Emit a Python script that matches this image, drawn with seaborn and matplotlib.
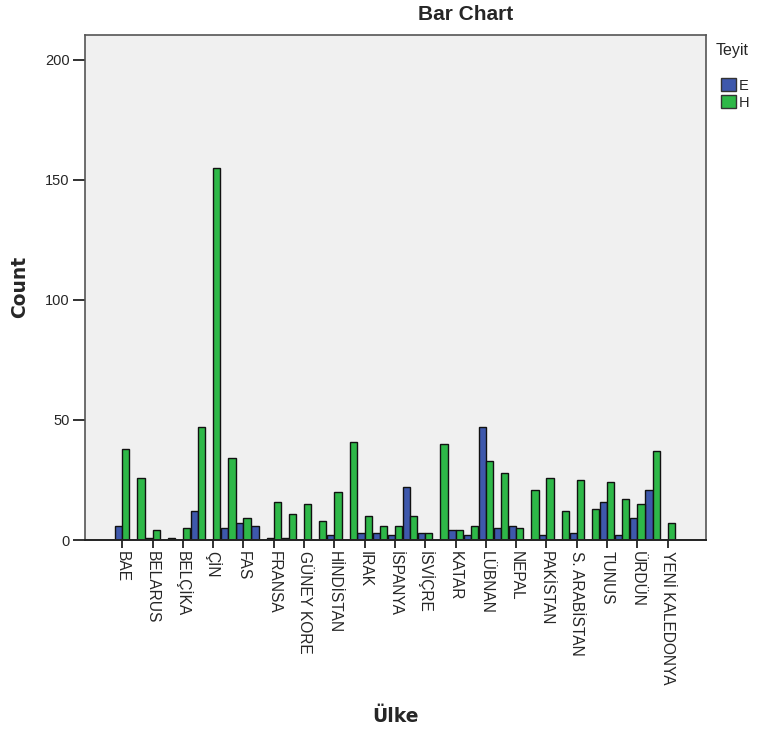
import matplotlib
matplotlib.use("Agg")
import matplotlib.pyplot as plt
import seaborn as sns
import pandas as pd

# ---- data ----
countries = [
    "BAE", "BAHREYN", "BELARUS", "BOSNA", "BELÇİKA", "BREZİLYA", "ÇİN", "ENDONEZYA",
    "FAS", "FİLİPİNLER", "FRANSA", "GÜNEY AFRİKA", "GÜNEY KORE", "GÜRCİSTAN",
    "HİNDİSTAN", "HOLLANDA", "IRAK", "İRAN", "İSPANYA", "İSRAİL", "İSVİÇRE",
    "İTALYA", "KATAR", "KUVEYT", "LÜBNAN", "MISIR", "NEPAL", "ÖZBEKİSTAN",
    "PAKİSTAN", "RUSYA", "S. ARABİSTAN", "TAYLAND", "TUNUS", "UKRAYNA", "ÜRDÜN",
    "VİETNAM", "YENİ KALEDONYA",
]
count_E = [6, 0, 1, 0, 0, 12, 0, 5, 7, 6, 1, 1, 0, 0, 2, 0, 3, 3, 2, 22, 3,
           0, 4, 2, 47, 5, 6, 0, 2, 0, 3, 0, 16, 2, 9, 21, 0]
count_H = [38, 26, 4, 1, 5, 47, 155, 34, 9, 0, 16, 11, 15, 8, 20, 41, 10, 6, 6,
           10, 3, 40, 4, 6, 33, 28, 5, 21, 26, 12, 25, 13, 24, 17, 15, 37, 7]
teyit_levels = ["E", "H"]
labeled_countries = countries[::2]
y_ticks = [0, 50, 100, 150, 200]

df = pd.DataFrame({
    "Ülke": countries * 2,
    "Teyit": ["E"] * len(countries) + ["H"] * len(countries),
    "Count": count_E + count_H,
})

sns.set_style("white")
plt.rcParams["font.family"] = ["Liberation Sans", "DejaVu Sans"]

fig = plt.figure(figsize=(7.6, 7.32), dpi=100)
ax = fig.add_axes([85 / 760, 1 - 540 / 732, (706 - 85) / 760, (540 - 34.5) / 732])
ax.set_facecolor("#F0F0F0")

palette = {"E": "#3E58AC", "H": "#2EB848"}
sns.barplot(data=df, x="Ülke", y="Count", hue="Teyit", order=countries,
            hue_order=teyit_levels, palette=palette, width=0.95,
            edgecolor="#111111", linewidth=1.0, saturation=1, ax=ax)

ax.set_xlim(-2.46, 38.53)
ax.set_ylim(0, 210.6)
ax.set_yticks(y_ticks)
ax.set_yticklabels([str(v) for v in y_ticks], fontsize=10.5)
ax.set_xticks(list(range(0, len(countries), 2)))
ax.set_xticklabels(labeled_countries, rotation=-90, ha="center", va="top", fontsize=11.2)
ax.tick_params(axis="x", direction="out", length=6, width=1.3, color="#222222", pad=2, bottom=True)
ax.tick_params(axis="y", direction="out", length=9, width=1.3, color="#222222", pad=2, left=True)
ax.set_xlabel("")
ax.set_ylabel("")

for s in ["top", "right", "left"]:
    ax.spines[s].set_color("#555555")
    ax.spines[s].set_linewidth(1.2)
ax.spines["bottom"].set_color("#222222")
ax.spines["bottom"].set_linewidth(1.4)

handles, labels = ax.get_legend_handles_labels()
if ax.get_legend() is not None:
    ax.get_legend().remove()
for h in handles:
    h.set_edgecolor("#333333")
leg = fig.legend(handles, labels, loc="upper left",
                 bbox_to_anchor=(721 / 760, 1 - 78 / 732), frameon=False,
                 handlelength=1.0, handleheight=1.0,
                 handletextpad=0.25, labelspacing=0.18, fontsize=10.5,
                 borderaxespad=0, borderpad=0)
fig.text(716 / 760, 1 - 50 / 732, "Teyit", ha="left", va="center", fontsize=11.5)

fig.text(466 / 760, 1 - 15 / 732, "Bar Chart", ha="center", va="center",
         fontsize=15, fontweight="bold")
fig.text(20 / 760, 1 - 287 / 732, "Count", rotation=90, ha="center", va="center",
         fontsize=13.5, fontweight="bold", family="DejaVu Sans")
fig.text(395 / 760, 1 - 716 / 732, "Ülke", ha="center", va="center",
         fontsize=13.5, fontweight="bold", family="DejaVu Sans")

fig.savefig("out.png", dpi=100)
